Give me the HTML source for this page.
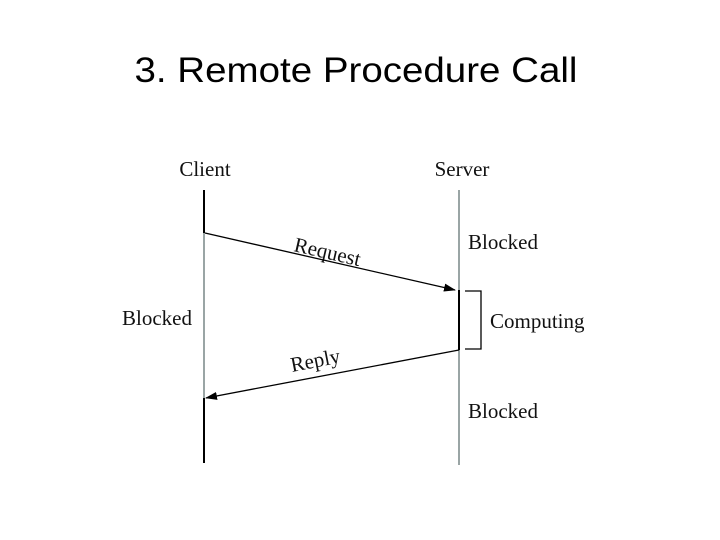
<!DOCTYPE html>
<html><head><meta charset="utf-8"><style>
html,body{margin:0;padding:0;background:#fff;}
svg{display:block;}
</style></head><body>
<svg width="720" height="540" viewBox="0 0 720 540" xmlns="http://www.w3.org/2000/svg">
<defs>
<marker id="ah" markerWidth="12" markerHeight="8" refX="11" refY="4" orient="auto" markerUnits="userSpaceOnUse">
<path d="M0,0 L12,4 L0,8 Z" fill="#000"/>
</marker>
</defs>
<text x="356" y="82" text-anchor="middle" font-family="Liberation Sans, sans-serif" font-size="35" fill="#000" textLength="443" lengthAdjust="spacingAndGlyphs">3. Remote Procedure Call</text>
<g font-family="Liberation Serif, serif" font-size="21" fill="#111">
<text x="205" y="176" text-anchor="middle">Client</text>
<text x="462" y="176" text-anchor="middle">Server</text>
<text x="468" y="249">Blocked</text>
<text x="122" y="325">Blocked</text>
<text x="490" y="328">Computing</text>
<text x="468" y="418">Blocked</text>
<text x="0" y="0" transform="translate(293,251) rotate(13)">Request</text>
<text x="0" y="0" transform="translate(292,372) rotate(-11)">Reply</text>
</g>
<line x1="204" y1="190" x2="204" y2="233" stroke="#000" stroke-width="2"/>
<line x1="204" y1="233" x2="204" y2="398" stroke="#9aa5a5" stroke-width="2"/>
<line x1="204" y1="398" x2="204" y2="463" stroke="#000" stroke-width="2"/>
<line x1="459" y1="190" x2="459" y2="465" stroke="#9aa5a5" stroke-width="2"/>
<line x1="459" y1="290" x2="459" y2="350" stroke="#000" stroke-width="2"/>
<line x1="205" y1="233" x2="455" y2="290" stroke="#000" stroke-width="1.3" marker-end="url(#ah)"/>
<line x1="459" y1="350" x2="206" y2="398" stroke="#000" stroke-width="1.3" marker-end="url(#ah)"/>
<path d="M465,291 H481 V349 H465" fill="none" stroke="#000" stroke-width="1.3"/>
</svg>
</body></html>
